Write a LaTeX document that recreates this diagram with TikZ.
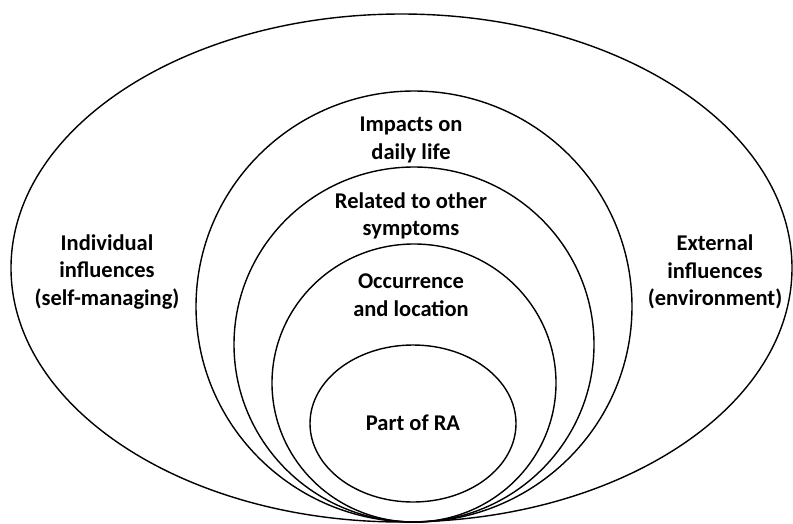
\documentclass[tikz,border=0pt]{standalone}
\usepackage{fontspec}
\setmainfont{Carlito}

\tikzset{
    ring/.style={line width=1.4pt},
    lbl/.style={align=center, font=\bfseries\fontsize{22.5}{27.5}\selectfont, inner sep=0pt}
}

\begin{document}
\begin{tikzpicture}[x=1pt, y=-1pt]
    \useasboundingbox (0,0) rectangle (793,523);
    % nested rings, all meeting at the bottom
    \draw [ring] (401.5,268) ellipse [x radius=390.5pt, y radius=254pt];
    \draw [ring] (414,306.5) ellipse [x radius=218pt, y radius=215.5pt];
    \draw [ring] (414,344.5) ellipse [x radius=180pt, y radius=177.5pt];
    \draw [ring] (414,383) ellipse [x radius=142pt, y radius=139pt];
    \draw [ring] (413,423.5) ellipse [x radius=103pt, y radius=78.5pt];
    % labels
    \node (indiv) at (107,272) [lbl] {Individual\\influences\\(self-managing)};
    \node (extern) at (715,272) [lbl] {External\\influences\\(environment)};
    \node (impact) at (411,140) [lbl] {Impacts on\\daily life};
    \node (related) at (411,216) [lbl] {Related to other\\symptoms};
    \node (occur) at (411,295) [lbl] {Occurrence\\and location};
    \node (part) at (413,423) [lbl] {Part of RA};
\end{tikzpicture}
\end{document}
